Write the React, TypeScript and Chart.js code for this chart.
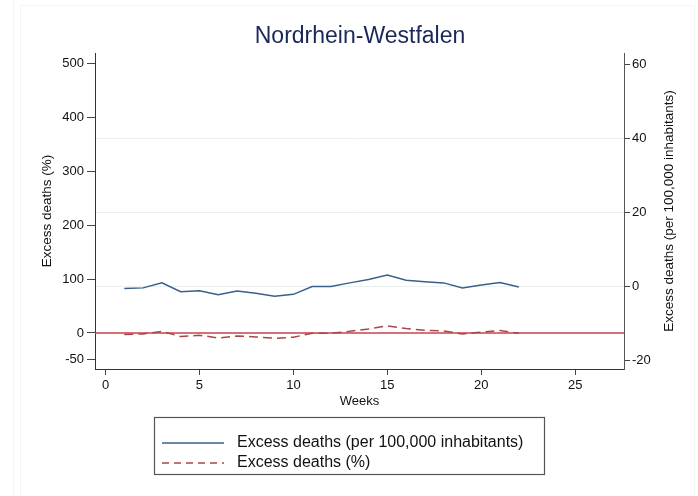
import React, { useEffect, useRef } from "react";
import { Chart, registerables } from "chart.js";

Chart.register(...registerables);

const TITLE = "Nordrhein-Westfalen";
const weeks = [1, 2, 3, 4, 5, 6, 7, 8, 9, 10, 11, 12, 13, 14, 15, 16, 17, 18, 19, 20, 21, 22];
const perHundredK = [-0.6, -0.45, 0.9, -1.5, -1.2, -2.3, -1.3, -1.9, -2.7, -2.2, -0.1, -0.1, 0.9, 1.8, 3.0, 1.6, 1.2, 0.9, -0.45, 0.3, 1.0, -0.2];
const percent = [-3, -1.8, 3, -6.8, -4.3, -9.3, -5.6, -7.4, -9.9, -8, -0.6, -0.6, 3, 7.5, 13, 8.2, 5, 3.7, -1.8, 1.3, 4.4, -0.6];
const xTicks = [0, 5, 10, 15, 20, 25];
const leftTicks = [-50, 0, 100, 200, 300, 400, 500];
const rightTicks = [-20, 0, 20, 40, 60];
const REF_VALUE = 0;
const LABEL_BLUE = "Excess deaths (per 100,000 inhabitants)";
const LABEL_RED = "Excess deaths (%)";
const RIGHT_TITLE = "Excess deaths (per 100,000 inhabitants)";

const BLUE = "#3b5f8c";
const RED = "#a8464c";
const REF_RED = "#c9414c";
const FONT = "'Liberation Sans', Arial, Helvetica, sans-serif";

export default function App() {
  const ref = useRef<HTMLCanvasElement>(null);

  useEffect(() => {
    if (!ref.current) return;

    const decor = {
      id: "decor",
      beforeDraw(chart: any) {
        const ctx = chart.ctx;
        ctx.save();
        ctx.strokeStyle = "#f4f4f4";
        ctx.lineWidth = 1;
        ctx.beginPath();
        ctx.moveTo(13.5, 0);
        ctx.lineTo(13.5, 496);
        ctx.moveTo(20.5, 496);
        ctx.lineTo(20.5, 5.5);
        ctx.lineTo(694.5, 5.5);
        ctx.lineTo(694.5, 496);
        ctx.stroke();
        ctx.restore();
      },
      beforeDatasetsDraw(chart: any) {
        const ctx = chart.ctx;
        const y = chart.scales.y.getPixelForValue(REF_VALUE);
        const { left, right } = chart.chartArea;
        ctx.save();
        ctx.strokeStyle = REF_RED;
        ctx.lineWidth = 1.5;
        ctx.beginPath();
        ctx.moveTo(left, y);
        ctx.lineTo(right, y);
        ctx.stroke();
        ctx.restore();
      },
      afterDraw(chart: any) {
        const ctx = chart.ctx;
        const { top, bottom } = chart.chartArea;
        ctx.save();
        // title
        ctx.fillStyle = "#1a2857";
        ctx.font = `23px ${FONT}`;
        ctx.textAlign = "center";
        ctx.textBaseline = "alphabetic";
        ctx.fillText(TITLE, 360, 43);
        // right axis title (reads bottom to top)
        ctx.save();
        ctx.translate(669, (top + bottom) / 2);
        ctx.rotate(-Math.PI / 2);
        ctx.fillStyle = "#111";
        ctx.font = `13.5px ${FONT}`;
        ctx.textAlign = "center";
        ctx.textBaseline = "middle";
        ctx.fillText(RIGHT_TITLE, 0, 0);
        ctx.restore();
        // legend
        ctx.strokeStyle = "#555";
        ctx.lineWidth = 1.2;
        ctx.strokeRect(154.5, 417.5, 390, 57);
        ctx.lineWidth = 1.5;
        ctx.strokeStyle = BLUE;
        ctx.beginPath();
        ctx.moveTo(162, 443);
        ctx.lineTo(224, 443);
        ctx.stroke();
        ctx.strokeStyle = RED;
        ctx.setLineDash([7, 5]);
        ctx.beginPath();
        ctx.moveTo(162, 463);
        ctx.lineTo(224, 463);
        ctx.stroke();
        ctx.setLineDash([]);
        ctx.fillStyle = "#111";
        ctx.font = `16px ${FONT}`;
        ctx.textAlign = "left";
        ctx.textBaseline = "middle";
        ctx.fillText(LABEL_BLUE, 237, 443);
        ctx.fillText(LABEL_RED, 237, 463);
        ctx.restore();
      },
    };

    const chart = new Chart(ref.current, {
      type: "line",
      data: {
        datasets: [
          {
            label: LABEL_BLUE,
            data: weeks.map((w, i) => ({ x: w, y: perHundredK[i] })),
            yAxisID: "y2",
            borderColor: BLUE,
            borderWidth: 1.5,
            pointRadius: 0,
            tension: 0,
          },
          {
            label: LABEL_RED,
            data: weeks.map((w, i) => ({ x: w, y: percent[i] })),
            yAxisID: "y",
            borderColor: RED,
            borderWidth: 1.5,
            borderDash: [9, 5],
            pointRadius: 0,
            tension: 0,
          },
        ],
      },
      options: {
        responsive: false,
        animation: false,
        layout: { padding: { left: 39, right: 21, top: 53, bottom: 87 } },
        plugins: { legend: { display: false }, title: { display: false }, tooltip: { enabled: false } },
        scales: {
          x: {
            type: "linear",
            min: -0.56,
            max: 27.6,
            afterBuildTicks: (s: any) => {
              s.ticks = xTicks.map((v) => ({ value: v }));
            },
            afterFit: (s: any) => {
              s.height = 40;
            },
            grid: { drawOnChartArea: false, drawTicks: true, tickLength: 6, tickColor: "#444" },
            border: { display: true, color: "#333", width: 1 },
            ticks: { color: "#111", font: { family: FONT, size: 13 }, padding: 3, maxRotation: 0, autoSkip: false },
            title: { display: true, text: "Weeks", color: "#111", font: { family: FONT, size: 13 }, padding: 0 },
          },
          y: {
            type: "linear",
            position: "left",
            min: -67,
            max: 520,
            afterBuildTicks: (s: any) => {
              s.ticks = leftTicks.map((v) => ({ value: v }));
            },
            afterFit: (s: any) => {
              s.width = 56;
            },
            grid: { drawOnChartArea: false, drawTicks: true, tickLength: 8, tickColor: "#444" },
            border: { display: true, color: "#333", width: 1 },
            ticks: { color: "#111", font: { family: FONT, size: 13 }, padding: 3, autoSkip: false },
            title: { display: true, text: "Excess deaths (%)", color: "#111", font: { family: FONT, size: 13.5 }, padding: 0 },
          },
          y2: {
            type: "linear",
            position: "right",
            min: -22.4,
            max: 63.1,
            afterBuildTicks: (s: any) => {
              s.ticks = rightTicks.map((v) => ({ value: v }));
            },
            afterFit: (s: any) => {
              s.width = 53;
            },
            grid: {
              drawOnChartArea: true,
              drawTicks: true,
              tickLength: 6,
              tickColor: "#444",
              color: (c: any) => (c.tick && (c.tick.value === 60 || c.tick.value === -20) ? "rgba(0,0,0,0)" : "#eaf0f0"),
              lineWidth: 1,
            },
            border: { display: true, color: "#555", width: 1 },
            ticks: { color: "#111", font: { family: FONT, size: 13 }, padding: 2, autoSkip: false },
            title: { display: false },
          },
        },
      },
      plugins: [decor],
    } as any);

    return () => chart.destroy();
  }, []);

  return (
    <div style={{ position: "fixed", left: 0, top: 0, width: 698, height: 496, background: "#fff" }}>
      <canvas ref={ref} width={698} height={496} style={{ width: 698, height: 496, display: "block" }} />
    </div>
  );
}
